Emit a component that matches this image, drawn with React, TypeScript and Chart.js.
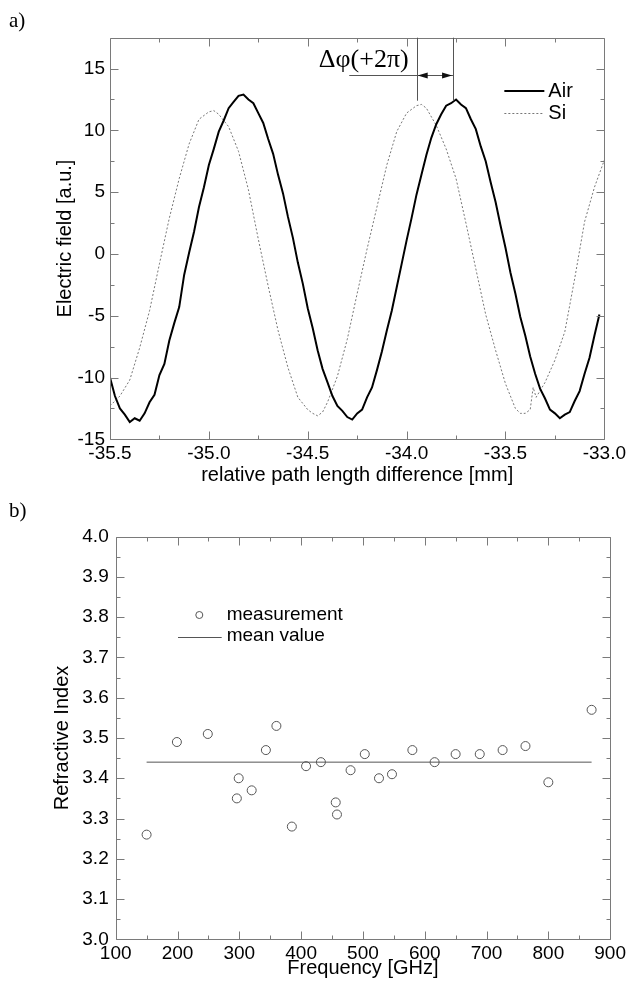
import React, { useEffect, useRef } from 'react';
import { Chart, registerables } from 'chart.js';
Chart.register(...registerables);

const SANS = '"Liberation Sans", Arial, Helvetica, sans-serif';
const SERIF = '"Liberation Serif", "Times New Roman", serif';

// ---------- Panel a ----------
const pathTicks = [-35.5, -35.0, -34.5, -34.0, -33.5, -33.0];
const pathMinorTicks = [-35.25, -34.75, -34.25, -33.75, -33.25];
const fieldTicks = [-15, -10, -5, 0, 5, 10, 15];
const fieldMinorTicks = [-12.5, -7.5, -2.5, 2.5, 7.5, 12.5];

const airPath = [
  -35.5, -35.475, -35.45, -35.425, -35.4, -35.375, -35.35, -35.325, -35.3, -35.275,
  -35.25, -35.225, -35.2, -35.175, -35.15, -35.125, -35.1, -35.075, -35.05, -35.025,
  -35.0, -34.975, -34.95, -34.925, -34.9, -34.875, -34.85, -34.825, -34.8, -34.775,
  -34.75, -34.725, -34.7, -34.675, -34.65, -34.625, -34.6, -34.575, -34.55, -34.525,
  -34.5, -34.475, -34.45, -34.425, -34.4, -34.375, -34.35, -34.325, -34.3, -34.275,
  -34.25, -34.225, -34.2, -34.175, -34.15, -34.125, -34.1, -34.075, -34.05, -34.025,
  -34.0, -33.975, -33.95, -33.925, -33.9, -33.875, -33.85, -33.825, -33.8, -33.775,
  -33.75, -33.725, -33.7, -33.675, -33.65, -33.625, -33.6, -33.575, -33.55, -33.525,
  -33.5, -33.475, -33.45, -33.425, -33.4, -33.375, -33.35, -33.325, -33.3, -33.275,
  -33.25, -33.225, -33.2, -33.175, -33.15, -33.125, -33.1, -33.075, -33.05, -33.025,
];
const airField = [
  -10.0, -11.5, -12.5, -13.0, -13.6, -13.3, -13.5, -12.9, -12.0, -11.4,
  -9.8, -8.9, -7.0, -5.6, -4.3, -1.7, 0.1, 1.8, 3.8, 5.4,
  7.2, 8.5, 9.9, 10.8, 11.8, 12.3, 12.8, 12.9, 12.5, 12.2,
  11.4, 10.6, 9.3, 8.1, 6.4, 4.9, 3.0, 1.3, -0.7, -2.4,
  -4.4, -6.0, -7.8, -9.3, -10.4, -11.5, -12.3, -12.7, -13.2, -13.4,
  -12.9, -12.6, -11.6, -10.8, -9.4, -7.9, -6.2, -4.6, -2.7, -0.8,
  1.1, 2.9, 4.8, 6.4, 8.0, 9.4, 10.5, 11.3, 12.0, 12.2,
  12.5, 12.1, 11.8, 10.9, 10.1, 8.7, 7.5, 5.8, 4.2, 2.3,
  0.5, -1.5, -3.2, -5.1, -6.6, -8.3, -9.7, -10.9, -11.7, -12.6,
  -12.9, -13.3, -13.0, -12.8, -11.9, -11.1, -9.7, -8.4, -6.6, -4.9,
];

const siPath = [
  -35.5, -35.45, -35.4, -35.35, -35.3, -35.25, -35.2, -35.15, -35.1, -35.05,
  -35.0, -34.975, -34.95, -34.9, -34.85, -34.8, -34.75, -34.7, -34.65, -34.6,
  -34.55, -34.5, -34.475, -34.45, -34.425, -34.4, -34.35, -34.3, -34.25, -34.2,
  -34.15, -34.1, -34.05, -34.0, -33.95, -33.925, -33.9, -33.85, -33.8, -33.75,
  -33.7, -33.65, -33.6, -33.55, -33.5, -33.45, -33.425, -33.4, -33.375, -33.36,
  -33.345, -33.3, -33.25, -33.2, -33.15, -33.1, -33.05, -33.0,
];
const siField = [
  -12.3, -11.5, -10.2, -7.6, -4.6, -0.8, 2.9, 6.1, 8.9, 10.9,
  11.5, 11.6, 11.3, 10.3, 8.3, 5.2, 1.2, -2.6, -6.2, -9.2,
  -11.6, -12.6, -12.9, -13.1, -12.8, -12.0, -9.9, -6.9, -3.2, 0.4,
  3.8, 7.2, 9.9, 11.4, 12.0, 12.1, 11.8, 10.4, 8.5, 6.1,
  2.5, -1.2, -4.9, -7.8, -10.5, -12.5, -12.9, -12.9, -12.6, -10.8,
  -11.6, -10.4, -8.6, -6.3, -2.0, 2.6, 5.4, 7.6,
];

// Δφ marker: Si peak and Air peak positions
const phaseMarkers = [-33.949, -33.765];
const phaseArrowLevel = 14.5;
const phaseMarkerBottom = 12.4;
const phaseLineStart = -34.29;
const phaseLabelBaseline = 15.1;

// ---------- Panel b ----------
const freqTicks = [100, 200, 300, 400, 500, 600, 700, 800, 900];
const freqMinorTicks = [150, 250, 350, 450, 550, 650, 750, 850];
const indexTicks = [3.0, 3.1, 3.2, 3.3, 3.4, 3.5, 3.6, 3.7, 3.8, 3.9, 4.0];
const indexMinorTicks = [3.05, 3.15, 3.25, 3.35, 3.45, 3.55, 3.65, 3.75, 3.85, 3.95];

const frequencies = [150, 199, 249, 296, 299, 320, 343, 360, 385, 408, 432, 456, 458, 480, 503, 526, 547, 580, 616, 650, 689, 726, 763, 800, 870];
const refractiveIndex = [3.26, 3.49, 3.51, 3.35, 3.40, 3.37, 3.47, 3.53, 3.28, 3.43, 3.44, 3.34, 3.31, 3.42, 3.46, 3.40, 3.41, 3.47, 3.44, 3.46, 3.46, 3.47, 3.48, 3.39, 3.57];
const meanIndex = 3.44;
const meanRange = [150, 870];

// ---------- helpers ----------
function drawFrame(chart: any, xMajor: number[], xMinor: number[], yMajor: number[], yMinor: number[]) {
  const { ctx, chartArea: a, scales } = chart;
  const xs = scales.x, ys = scales.y;
  const L = Math.round(a.left) + 0.5, R = Math.round(a.right) + 0.5;
  const T = Math.round(a.top) + 0.5, B = Math.round(a.bottom) + 0.5;
  ctx.save();
  ctx.strokeStyle = '#7a7a7a';
  ctx.lineWidth = 1;
  ctx.beginPath();
  ctx.rect(L, T, R - L, B - T);
  const xt = (vals: number[], len: number) => {
    vals.forEach((v) => {
      const p = Math.round(xs.getPixelForValue(v)) + 0.5;
      ctx.moveTo(p, B); ctx.lineTo(p, B - len);
      ctx.moveTo(p, T); ctx.lineTo(p, T + len);
    });
  };
  const yt = (vals: number[], len: number) => {
    vals.forEach((v) => {
      const p = Math.round(ys.getPixelForValue(v)) + 0.5;
      ctx.moveTo(L, p); ctx.lineTo(L + len, p);
      ctx.moveTo(R, p); ctx.lineTo(R - len, p);
    });
  };
  xt(xMajor, 8); xt(xMinor, 4); yt(yMajor, 8); yt(yMinor, 4);
  ctx.stroke();
  ctx.restore();
}

const fixedTicks = (vals: number[]) => (s: any) => {
  s.ticks = vals.map((v) => ({ value: v }));
};

export default function App() {
  const refA = useRef<HTMLCanvasElement>(null);
  const refB = useRef<HTMLCanvasElement>(null);

  useEffect(() => {
    const pluginA = {
      id: 'panelA',
      afterDraw(chart: any) {
        drawFrame(chart, pathTicks, pathMinorTicks, fieldTicks, fieldMinorTicks);
        const { ctx, chartArea: a, scales: { x, y } } = chart;
        ctx.save();
        // panel label
        ctx.fillStyle = '#000';
        ctx.font = `21px ${SERIF}`;
        ctx.textAlign = 'left';
        ctx.textBaseline = 'alphabetic';
        ctx.fillText('a)', 9, 27);
        // Δφ annotation
        const xl = x.getPixelForValue(phaseMarkers[0]);
        const xr = x.getPixelForValue(phaseMarkers[1]);
        const ya = Math.round(y.getPixelForValue(phaseArrowLevel)) + 0.5;
        const yb = y.getPixelForValue(phaseMarkerBottom);
        ctx.strokeStyle = '#555';
        ctx.lineWidth = 1;
        ctx.beginPath();
        ctx.moveTo(Math.round(xl) + 0.5, a.top); ctx.lineTo(Math.round(xl) + 0.5, yb);
        ctx.moveTo(Math.round(xr) + 0.5, a.top); ctx.lineTo(Math.round(xr) + 0.5, yb);
        ctx.moveTo(x.getPixelForValue(phaseLineStart), ya); ctx.lineTo(xr, ya);
        ctx.stroke();
        ctx.fillStyle = '#111';
        ctx.beginPath();
        ctx.moveTo(xl + 1, ya); ctx.lineTo(xl + 11, ya - 3); ctx.lineTo(xl + 11, ya + 3); ctx.closePath();
        ctx.moveTo(xr - 1, ya); ctx.lineTo(xr - 11, ya - 3); ctx.lineTo(xr - 11, ya + 3); ctx.closePath();
        ctx.fill();
        ctx.fillStyle = '#000';
        ctx.font = `26px ${SERIF}`;
        ctx.textAlign = 'right';
        ctx.fillText('\u0394\u03c6(+2\u03c0)', xl - 8, y.getPixelForValue(phaseLabelBaseline));
        // legend
        const lx0 = a.right - 100, lx1 = a.right - 60, tx = a.right - 56;
        const r1 = a.top + 53.3, r2 = a.top + 75.6;
        ctx.strokeStyle = '#000';
        ctx.lineWidth = 2;
        ctx.beginPath(); ctx.moveTo(lx0, r1); ctx.lineTo(lx1, r1); ctx.stroke();
        ctx.strokeStyle = '#777';
        ctx.lineWidth = 1;
        ctx.setLineDash([2, 2]);
        ctx.beginPath(); ctx.moveTo(lx0, Math.round(r2) + 0.5); ctx.lineTo(lx1, Math.round(r2) + 0.5); ctx.stroke();
        ctx.setLineDash([]);
        ctx.fillStyle = '#000';
        ctx.font = `20px ${SANS}`;
        ctx.textAlign = 'left';
        ctx.textBaseline = 'middle';
        ctx.fillText('Air', tx, r1);
        ctx.fillText('Si', tx, r2);
        ctx.restore();
      },
    };

    const pluginB = {
      id: 'panelB',
      afterDraw(chart: any) {
        drawFrame(chart, freqTicks, freqMinorTicks, indexTicks, indexMinorTicks);
        const { ctx, chartArea: a } = chart;
        ctx.save();
        ctx.fillStyle = '#000';
        ctx.font = `21px ${SERIF}`;
        ctx.textAlign = 'left';
        ctx.textBaseline = 'alphabetic';
        ctx.fillText('b)', 9, 30);
        // legend
        ctx.strokeStyle = '#555';
        ctx.lineWidth = 1;
        ctx.beginPath();
        ctx.arc(a.left + 83.6, a.top + 78.3, 3.5, 0, Math.PI * 2);
        ctx.stroke();
        const ly = Math.round(a.top + 100.6) + 0.5;
        ctx.beginPath(); ctx.moveTo(a.left + 62.3, ly); ctx.lineTo(a.left + 106, ly); ctx.stroke();
        ctx.font = `19px ${SANS}`;
        ctx.textBaseline = 'middle';
        ctx.fillText('measurement', a.left + 111, a.top + 78.3);
        ctx.fillText('mean value', a.left + 111, a.top + 99.3);
        ctx.restore();
      },
    };

    const tickFont = { family: SANS, size: 19 };
    const titleFont = { family: SANS, size: 20 };

    const chartA = new Chart(refA.current as HTMLCanvasElement, {
      type: 'scatter',
      data: {
        datasets: [
          {
            label: 'Air',
            data: airPath.map((v, i) => ({ x: v, y: airField[i] })),
            showLine: true,
            borderColor: '#000',
            borderWidth: 2,
            pointRadius: 0,
            tension: 0,
          },
          {
            label: 'Si',
            data: siPath.map((v, i) => ({ x: v, y: siField[i] })),
            showLine: true,
            borderColor: '#777',
            borderWidth: 1,
            borderDash: [2, 2],
            pointRadius: 0,
            tension: 0,
          },
        ],
      },
      options: {
        animation: false,
        responsive: false,
        devicePixelRatio: 1,
        layout: { padding: { top: 37.7, right: 22.3, left: 0, bottom: 0 } },
        plugins: { legend: { display: false }, tooltip: { enabled: false } },
        scales: {
          x: {
            type: 'linear',
            min: -35.5,
            max: -33.0,
            afterBuildTicks: fixedTicks(pathTicks),
            afterFit: (s: any) => { s.height = 47.7; },
            grid: { display: false, drawTicks: false },
            border: { display: false },
            ticks: { padding: 3, color: '#000', font: tickFont, maxRotation: 0, autoSkip: false, callback: (v: any) => Number(v).toFixed(1) },
            title: { display: true, text: 'relative path length difference [mm]', color: '#000', font: titleFont, padding: { top: 0, bottom: 0 } },
          },
          y: {
            type: 'linear',
            min: -15,
            max: 17.5,
            afterBuildTicks: fixedTicks(fieldTicks),
            afterFit: (s: any) => { s.width = 110; },
            grid: { display: false, drawTicks: false },
            border: { display: false },
            ticks: { padding: 5, color: '#000', font: tickFont, autoSkip: false, callback: (v: any) => String(v) },
            title: { display: true, text: 'Electric field [a.u.]', color: '#000', font: titleFont, padding: { top: 53, bottom: 0 } },
          },
        },
      } as any,
      plugins: [pluginA],
    } as any);

    const chartB = new Chart(refB.current as HTMLCanvasElement, {
      type: 'scatter',
      data: {
        datasets: [
          {
            label: 'measurement',
            data: frequencies.map((v, i) => ({ x: v, y: refractiveIndex[i] })),
            showLine: false,
            pointStyle: 'circle',
            pointRadius: 4.5,
            borderColor: '#555',
            backgroundColor: 'rgba(0,0,0,0)',
            borderWidth: 1,
          },
          {
            label: 'mean value',
            data: meanRange.map((v) => ({ x: v, y: meanIndex })),
            showLine: true,
            borderColor: '#555',
            borderWidth: 1,
            pointRadius: 0,
          },
        ],
      },
      options: {
        animation: false,
        responsive: false,
        devicePixelRatio: 1,
        layout: { padding: { top: 49.7, right: 17.3, left: 0, bottom: 0 } },
        plugins: { legend: { display: false }, tooltip: { enabled: false } },
        scales: {
          x: {
            type: 'linear',
            min: 100,
            max: 900,
            afterBuildTicks: fixedTicks(freqTicks),
            afterFit: (s: any) => { s.height = 47.7; },
            grid: { display: false, drawTicks: false },
            border: { display: false },
            ticks: { padding: 3, color: '#000', font: tickFont, maxRotation: 0, autoSkip: false, callback: (v: any) => String(Math.round(Number(v))) },
            title: { display: true, text: 'Frequency [GHz]', color: '#000', font: titleFont, padding: { top: 0, bottom: 7 } },
          },
          y: {
            type: 'linear',
            min: 3.0,
            max: 4.0,
            afterBuildTicks: fixedTicks(indexTicks),
            afterFit: (s: any) => { s.width = 115.7; },
            grid: { display: false, drawTicks: false },
            border: { display: false },
            ticks: { padding: 7, color: '#000', font: tickFont, autoSkip: false, callback: (v: any) => Number(v).toFixed(1) },
            title: { display: true, text: 'Refractive Index', color: '#000', font: titleFont, padding: { top: 50.5, bottom: 0 } },
          },
        },
      } as any,
      plugins: [pluginB],
    } as any);

    return () => {
      chartA.destroy();
      chartB.destroy();
    };
  }, []);

  return (
    <div style={{ position: 'absolute', left: 0, top: 0, width: 629, height: 987, background: '#fff' }}>
      <canvas ref={refA} width={629} height={487} style={{ position: 'absolute', left: 0, top: 0, width: 629, height: 487 }} />
      <canvas ref={refB} width={629} height={500} style={{ position: 'absolute', left: 0, top: 487, width: 629, height: 500 }} />
    </div>
  );
}
